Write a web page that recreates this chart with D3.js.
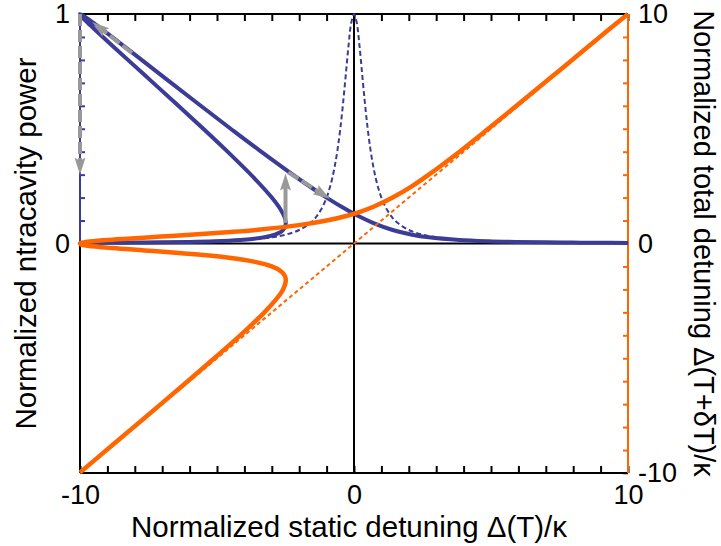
<!DOCTYPE html>
<html>
<head>
<meta charset="utf-8">
<script src="https://cdn.jsdelivr.net/npm/d3@7"></script>
<style>
  body { margin: 0; background: #fff; }
  text { font-family: "Liberation Sans", Arial, sans-serif; fill: #000; }
</style>
</head>
<body>
<svg width="721" height="546"></svg>
<script>
// hot cavity, read along the S-curve (lower branch -> middle -> upper)
const staticDetuning = [-10.0, -9.03, -8.04, -7.05, -6.07, -5.10, -4.15, -3.70, -3.27, -2.89,
  -2.69, -2.59, -2.52, -2.50, -2.49, -2.50, -2.53, -2.68, -3.00, -3.61,
  -4.70, -5.50, -6.50, -7.65, -8.82, -9.72, -9.95, -10.0, -9.85, -9.52,
  -8.42, -7.05, -5.70, -4.50, -3.50, -2.01, -1.00, -0.28, 0.27, 0.71,
  1.41, 2.12, 2.73, 3.85, 4.90, 5.93, 6.95, 7.96, 8.97, 10.0];
const intracavityPower = [0.0025, 0.0031, 0.0039, 0.0051, 0.0069, 0.0099, 0.0154, 0.020, 0.027, 0.0385,
  0.049, 0.059, 0.072, 0.080, 0.089, 0.100, 0.113, 0.148, 0.200, 0.281,
  0.410, 0.500, 0.610, 0.735, 0.862, 0.962, 0.990, 1.0, 0.990, 0.962,
  0.862, 0.735, 0.610, 0.500, 0.410, 0.281, 0.200, 0.148, 0.113, 0.089,
  0.059, 0.0385, 0.027, 0.0154, 0.0099, 0.0069, 0.0051, 0.0039, 0.0031, 0.0025];
const totalDetuning = [-9.975, -9, -8, -7, -6, -5, -4, -3.5, -3, -2.5,
  -2.2, -2, -1.8, -1.7, -1.6, -1.5, -1.4, -1.2, -1, -0.8,
  -0.6, -0.5, -0.4, -0.3, -0.2, -0.1, -0.05, 0, 0.05, 0.1,
  0.2, 0.3, 0.4, 0.5, 0.6, 0.8, 1, 1.2, 1.4, 1.6,
  2, 2.5, 3, 4, 5, 6, 7, 8, 9, 10];

// cold cavity resonance (dashed blue)
const coldDetuning = [-10, -6, -4, -3, -2.5, -2, -1.6, -1.4, -1.2, -1, -0.9, -0.8, -0.7, -0.6, -0.5,
  -0.4, -0.3, -0.2, -0.1, 0, 0.1, 0.2, 0.3, 0.4, 0.5, 0.6, 0.7, 0.8, 0.9, 1,
  1.2, 1.4, 1.6, 2, 2.5, 3, 4, 6, 10];
const coldPower = [0.0025, 0.0069, 0.0154, 0.027, 0.0385, 0.0588, 0.089, 0.113, 0.148, 0.2, 0.236, 0.281, 0.338, 0.41, 0.5,
  0.61, 0.735, 0.862, 0.962, 1, 0.962, 0.862, 0.735, 0.61, 0.5, 0.41, 0.338, 0.281, 0.236, 0.2,
  0.148, 0.113, 0.089, 0.0588, 0.0385, 0.027, 0.0154, 0.0069, 0.0025];

// no thermal shift (dashed orange)
const unshiftedStatic = [-10, 10];
const unshiftedTotal = [-10, 10];

// hysteresis arrows, (static detuning, power)
const arrowStart = [[-8.1, 0.83], [-10, 1], [-2.5, 0.09], [-2.4, 0.31]];
const arrowEnd = [[-9.55, 0.965], [-10, 0.3], [-2.5, 0.305], [-0.88, 0.195]];
const arrowDashed = [true, true, false, true];

const xTickLabels = [-10, 0, 10];
const powerTickLabels = [0, 1];
const totalTickLabels = [-10, 0, 10];

const blue = '#3c3c97', orange = '#ff6600', gray = '#999999';

const svg = d3.select('svg');
const x = d3.scaleLinear().domain([-10, 10]).range([80, 628]);
const yP = d3.scaleLinear().domain([-1, 1]).range([473, 14]);
const yD = d3.scaleLinear().domain([-10, 10]).range([473, 14]);

function styleAxis(g, color, size) {
  g.selectAll('.tick line').attr('stroke', color).attr('stroke-width', 2);
  g.selectAll('.domain').remove();
  g.selectAll('text').style('font-size', size).attr('fill', '#000')
    .style('font-family', '"Liberation Sans", Arial, sans-serif');
}

// top frame
svg.append('g').attr('transform', `translate(0,${yP(1)})`)
  .call(d3.axisBottom(x).ticks(20).tickSizeInner(7).tickSizeOuter(0).tickFormat(''))
  .call(g => styleAxis(g, '#000', '27px'));
// bottom axis
svg.append('g').attr('transform', `translate(0,${yP(-1)})`)
  .call(d3.axisBottom(x).ticks(20).tickSizeInner(-7).tickSizeOuter(0).tickPadding(12)
    .tickFormat(d => xTickLabels.includes(d) ? String(d) : ''))
  .call(g => styleAxis(g, '#000', '27px'));
// left axis (power)
svg.append('g').attr('transform', `translate(${x(-10)},0)`)
  .call(d3.axisLeft(yP).tickValues(yP.ticks(20).filter(d => d > 0.01 && d < 0.99)).tickSizeInner(-5).tickSizeOuter(0).tickFormat(''))
  .call(g => styleAxis(g, blue, '27px'));
svg.append('g').attr('transform', `translate(${x(-10)},0)`)
  .call(d3.axisLeft(yP).tickValues(powerTickLabels).tickSize(0).tickPadding(10).tickFormat(d => String(d)))
  .call(g => styleAxis(g, blue, '27px'));
// right axis (total detuning)
svg.append('g').attr('transform', `translate(${x(10)},0)`)
  .call(d3.axisRight(yD).ticks(20).tickSizeInner(-5).tickSizeOuter(0).tickPadding(10)
    .tickFormat(d => totalTickLabels.includes(d) ? String(d) : ''))
  .call(g => styleAxis(g, orange, '27px'));

const frame = svg.append('g').attr('stroke-width', 2).attr('fill', 'none');
frame.append('line').attr('x1', x(-10)).attr('x2', x(10)).attr('y1', yP(1)).attr('y2', yP(1)).attr('stroke', '#000');
frame.append('line').attr('x1', x(-10)).attr('x2', x(10)).attr('y1', yP(-1)).attr('y2', yP(-1)).attr('stroke', '#000');
frame.append('line').attr('x1', x(-10)).attr('x2', x(10)).attr('y1', yP(0)).attr('y2', yP(0)).attr('stroke', '#000');
frame.append('line').attr('x1', x(0)).attr('x2', x(0)).attr('y1', yP(-1)).attr('y2', yP(1)).attr('stroke', '#000');
frame.append('line').attr('x1', x(-10)).attr('x2', x(-10)).attr('y1', yP(-1)).attr('y2', yP(0)).attr('stroke', '#000');
frame.append('line').attr('x1', x(-10)).attr('x2', x(-10)).attr('y1', yP(0)).attr('y2', yP(1)).attr('stroke', blue);
frame.append('line').attr('x1', x(10)).attr('x2', x(10)).attr('y1', yD(-10)).attr('y2', yD(10)).attr('stroke', orange);

// curves
const hot = staticDetuning.map((s, i) => ({ s, p: intracavityPower[i], d: totalDetuning[i] }));
const cold = coldDetuning.map((s, i) => ({ s, p: coldPower[i] }));
const unshifted = unshiftedStatic.map((s, i) => ({ s, d: unshiftedTotal[i] }));

const powerLine = d3.line().x(d => x(d.s)).y(d => yP(d.p)).curve(d3.curveCatmullRom.alpha(0.5));
const detLine = d3.line().x(d => x(d.s)).y(d => yD(d.d)).curve(d3.curveCatmullRom.alpha(0.5));

svg.append('path').attr('d', powerLine(cold))
  .attr('fill', 'none').attr('stroke', blue).attr('stroke-width', 2).attr('stroke-dasharray', '5,3');
svg.append('path').attr('d', powerLine(hot))
  .attr('fill', 'none').attr('stroke', blue).attr('stroke-width', 4);
svg.append('path').attr('d', detLine(unshifted))
  .attr('fill', 'none').attr('stroke', orange).attr('stroke-width', 2).attr('stroke-dasharray', '4,3');
svg.append('path').attr('d', detLine(hot))
  .attr('fill', 'none').attr('stroke', orange).attr('stroke-width', 4.5);

// arrows
svg.append('defs').append('marker')
  .attr('id', 'head').attr('viewBox', '0 -7 18 14')
  .attr('markerUnits', 'userSpaceOnUse').attr('markerWidth', 18).attr('markerHeight', 14)
  .attr('refX', 3).attr('refY', 0).attr('orient', 'auto')
  .append('path').attr('d', 'M0,-5.5 L17,0 L0,5.5 L3,0 Z').attr('fill', gray);

arrowStart.forEach((a, i) => {
  const x0 = x(a[0]), y0 = yP(a[1]);
  const x1 = x(arrowEnd[i][0]), y1 = yP(arrowEnd[i][1]);
  const len = Math.hypot(x1 - x0, y1 - y0);
  const head = 14;
  svg.append('line')
    .attr('x1', x0).attr('y1', y0)
    .attr('x2', x1 - (x1 - x0) / len * head).attr('y2', y1 - (y1 - y0) / len * head)
    .attr('stroke', gray).attr('stroke-width', 4)
    .attr('stroke-dasharray', arrowDashed[i] ? '12,4' : null)
    .attr('marker-end', 'url(#head)');
});

// titles
svg.append('text').attr('x', 349).attr('y', 537).attr('text-anchor', 'middle')
  .style('font-size', '29.5px').text('Normalized static detuning Δ(T)/κ');
svg.append('text').attr('transform', 'translate(36,243.5) rotate(-90)').attr('text-anchor', 'middle')
  .style('font-size', '29.5px').text('Normalized ntracavity power');
svg.append('text').attr('transform', 'translate(694,243.5) rotate(90)').attr('text-anchor', 'middle')
  .style('font-size', '29px').text('Normalized total detuning Δ(T+δT)/κ');
</script>
</body>
</html>
